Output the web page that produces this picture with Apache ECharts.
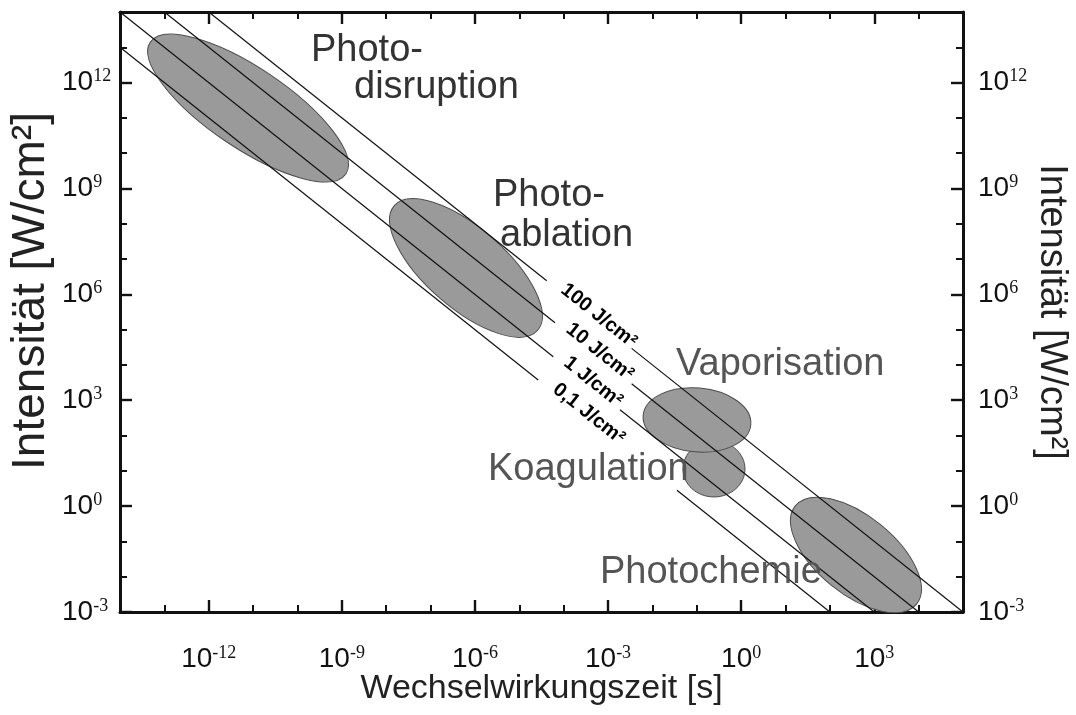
<!DOCTYPE html>
<html><head><meta charset="utf-8">
<script src="https://cdn.jsdelivr.net/npm/echarts@6/dist/echarts.min.js"></script>
<style>html,body{margin:0;padding:0;background:#fff;} #c{width:1076px;height:715px;}</style>
</head><body><div id="c"></div>
<script>
// ---- axis ranges & ticks ----
const X_MIN = 1e-14, X_MAX = 1e5, Y_MIN = 1e-3, Y_MAX = 1e14;
const xMajorTicks = [1e-12, 1e-9, 1e-6, 1e-3, 1e0, 1e3];
const xMinorTicks = [1e-13, 1e-11, 1e-10, 1e-8, 1e-7, 1e-5, 1e-4, 1e-2, 1e-1, 1e1, 1e2, 1e4];
const yMajorTicks = [1e-3, 1e0, 1e3, 1e6, 1e9, 1e12];
const yMinorTicks = [1e-2, 1e-1, 1e1, 1e2, 1e4, 1e5, 1e7, 1e8, 1e10, 1e11, 1e13];

// ---- constant-fluence lines (J/cm²) ----
const fluences = [100, 10, 1, 0.1];
const fluenceLabels = ['100 J/cm²', '10 J/cm²', '1 J/cm²', '0,1 J/cm²'];
const fluenceGapStart = [4.14e-5, 6.37e-5, 5.83e-5, 2.67e-5];   // time where line is interrupted (s)
const fluenceGapEnd = [3.40e-3, 3.40e-3, 1.86e-3, 3.57e-2];     // time where line resumes (s)
const fluenceLabelTime = [5.26e-4, 5.53e-4, 3.92e-4, 3.13e-4];  // label centre time (s)

// ---- interaction regions (ellipses): centre, end of major axis, end of minor axis [t (s), I (W/cm²)] ----
const regionNames = ['Koagulation', 'Photodisruption', 'Photoablation', 'Vaporisation', 'Photochemie'];
const regionCenter = [[0.244, 11.3], [7.7e-12, 1.9e11], [6.28e-7, 5.6e6], [0.101, 276], [387, 0.0412]];
const regionMajorEnd = [[1.22, 11.3], [1.23e-9, 2.58e9], [2.59e-5, 9.59e4], [1.65, 203], [9.0e3, 1.67e-3]];
const regionMinorEnd = [[0.244, 70.2], [2.45e-11, 1.67e12], [2.45e-6, 4.01e7], [0.116, 2213], [1380, 0.298]];

const chart = echarts.init(document.getElementById('c'), null, {renderer: 'canvas'});

const SANS = "'Liberation Sans', Arial, Helvetica, sans-serif";
const NARROW = "'Liberation Sans Narrow', 'Arial Narrow', 'Liberation Sans', Arial, sans-serif";
const SERIF = "'Liberation Serif', 'Times New Roman', serif";

function powLabel(v) {
  const e = Math.round(Math.log10(v));
  return '{b|10}{s|' + e + '}';
}
const richLbl = {
  b: {fontSize: 28, fontFamily: NARROW, color: '#111', lineHeight: 30},
  s: {fontSize: 18, fontFamily: SERIF, color: '#111', verticalAlign: 'top', lineHeight: 18}
};

function mkAxis(extra, lo, hi, pos, ticks, len, width, showLine, labelCfg) {
  return Object.assign({
    type: 'log', logBase: 10, min: lo, max: hi, position: pos, gridIndex: 0,
    nameMoveOverlap: false,
    axisLine: {show: showLine, onZero: false, lineStyle: {color: '#111', width: 3}},
    axisTick: {show: true, inside: true, length: len, customValues: ticks, lineStyle: {color: '#111', width: width}},
    axisLabel: labelCfg ? Object.assign({show: true, customValues: ticks, formatter: powLabel, rich: richLbl}, labelCfg) : {show: false},
    splitLine: {show: false}, minorTick: {show: false}, minorSplitLine: {show: false}
  }, extra);
}

const lineSeries = [];
fluences.forEach((F, i) => {
  const t0 = Math.max(X_MIN, F / Y_MAX);
  const t1 = Math.min(X_MAX, F / Y_MIN);
  const segs = [[t0, fluenceGapStart[i]], [fluenceGapEnd[i], t1]];
  segs.forEach(s => {
    lineSeries.push({
      type: 'line', xAxisIndex: 0, yAxisIndex: 0, symbol: 'none', silent: true, z: 3,
      lineStyle: {color: '#111', width: 1.2},
      data: [[s[0], F / s[0]], [s[1], F / s[1]]]
    });
  });
});

const option = {
  animation: false,
  backgroundColor: '#fff',
  grid: {left: 120, right: 113, top: 12, bottom: 103, containLabel: false, outerBoundsMode: 'none'},
  xAxis: [
    mkAxis({name: 'Wechselwirkungszeit [s]', nameLocation: 'middle', nameGap: 60,
      nameTextStyle: {fontSize: 34, color: '#222', fontFamily: SANS}},
      X_MIN, X_MAX, 'bottom', xMajorTicks, 12, 2.4, true, {margin: 32}),
    mkAxis({}, X_MIN, X_MAX, 'bottom', xMinorTicks, 7, 2, false, null),
    mkAxis({}, X_MIN, X_MAX, 'top', xMajorTicks, 12, 2.4, true, null),
    mkAxis({}, X_MIN, X_MAX, 'top', xMinorTicks, 7, 2, false, null)
  ],
  yAxis: [
    mkAxis({name: 'Intensität [W/cm²]', nameLocation: 'middle', nameGap: 66, nameRotate: 90,
      nameTextStyle: {fontSize: 46, color: '#222', fontFamily: SANS, padding: [0, 0, 0, 42]}},
      Y_MIN, Y_MAX, 'left', yMajorTicks, 12, 2.4, true, {margin: 58, align: 'left'}),
    mkAxis({}, Y_MIN, Y_MAX, 'left', yMinorTicks, 7, 2, false, null),
    mkAxis({name: 'Intensität [W/cm²]', nameLocation: 'middle', nameGap: 69, nameRotate: -90,
      nameTextStyle: {fontSize: 38, color: '#222', fontFamily: SANS}},
      Y_MIN, Y_MAX, 'right', yMajorTicks, 12, 2.4, true, {margin: 15}),
    mkAxis({}, Y_MIN, Y_MAX, 'right', yMinorTicks, 7, 2, false, null)
  ],
  series: [
    {
      type: 'custom', xAxisIndex: 0, yAxisIndex: 0, z: 2, silent: true, clip: false,
      encode: {x: [0, 2, 4], y: [1, 3, 5]},
      data: regionNames.map((n, i) => [regionCenter[i][0], regionCenter[i][1],
        regionMajorEnd[i][0], regionMajorEnd[i][1], regionMinorEnd[i][0], regionMinorEnd[i][1]]),
      renderItem: function (params, api) {
        const c = api.coord([api.value(0), api.value(1)]);
        const a = api.coord([api.value(2), api.value(3)]);
        const b = api.coord([api.value(4), api.value(5)]);
        const rx = Math.hypot(a[0] - c[0], a[1] - c[1]);
        const ry = Math.hypot(b[0] - c[0], b[1] - c[1]);
        const rot = -Math.atan2(a[1] - c[1], a[0] - c[0]);
        return {
          type: 'ellipse', x: c[0], y: c[1], rotation: rot,
          shape: {cx: 0, cy: 0, rx: rx, ry: ry},
          style: {fill: '#9a9a9a', stroke: '#4d4d4d', lineWidth: 1}
        };
      }
    },
    ...lineSeries,
    {
      type: 'custom', xAxisIndex: 0, yAxisIndex: 0, z: 4, silent: true, clip: false,
      data: fluences.map((F, i) => [fluenceLabelTime[i], F / fluenceLabelTime[i], i]),
      renderItem: function (params, api) {
        const t = api.value(0), I = api.value(1), idx = api.value(2);
        const p = api.coord([t, I]);
        const q = api.coord([t * 10, I / 10]);
        const ang = Math.atan2(q[1] - p[1], q[0] - p[0]);
        const off = 5;
        return {
          type: 'text', x: p[0] + Math.sin(ang) * off, y: p[1] - Math.cos(ang) * off, rotation: -ang,
          style: {text: fluenceLabels[idx], fontSize: 20, fontWeight: 'bold', fontFamily: SANS,
            fill: '#000', align: 'center', verticalAlign: 'middle'}
        };
      }
    }
  ],
  graphic: [
    {type: 'text', x: 311, y: 51, z: 100, style: {text: 'Photo-', fontSize: 38, fontFamily: SANS, fill: '#333', verticalAlign: 'middle'}},
    {type: 'text', x: 354, y: 88, z: 100, style: {text: 'disruption', fontSize: 38, fontFamily: SANS, fill: '#333', verticalAlign: 'middle'}},
    {type: 'text', x: 493, y: 196, z: 100, style: {text: 'Photo-', fontSize: 38, fontFamily: SANS, fill: '#333', verticalAlign: 'middle'}},
    {type: 'text', x: 500, y: 236, z: 100, style: {text: 'ablation', fontSize: 38, fontFamily: SANS, fill: '#333', verticalAlign: 'middle'}},
    {type: 'text', x: 676, y: 365, z: 100, style: {text: 'Vaporisation', fontSize: 38, fontFamily: SANS, fill: '#555', verticalAlign: 'middle'}},
    {type: 'text', x: 488, y: 470, z: 100, style: {text: 'Koagulation', fontSize: 38, fontFamily: SANS, fill: '#555', verticalAlign: 'middle'}},
    {type: 'text', x: 600, y: 573, z: 100, style: {text: 'Photochemie', fontSize: 38, fontFamily: SANS, fill: '#555', verticalAlign: 'middle'}}
  ]
};
chart.setOption(option);
</script>
</body></html>
